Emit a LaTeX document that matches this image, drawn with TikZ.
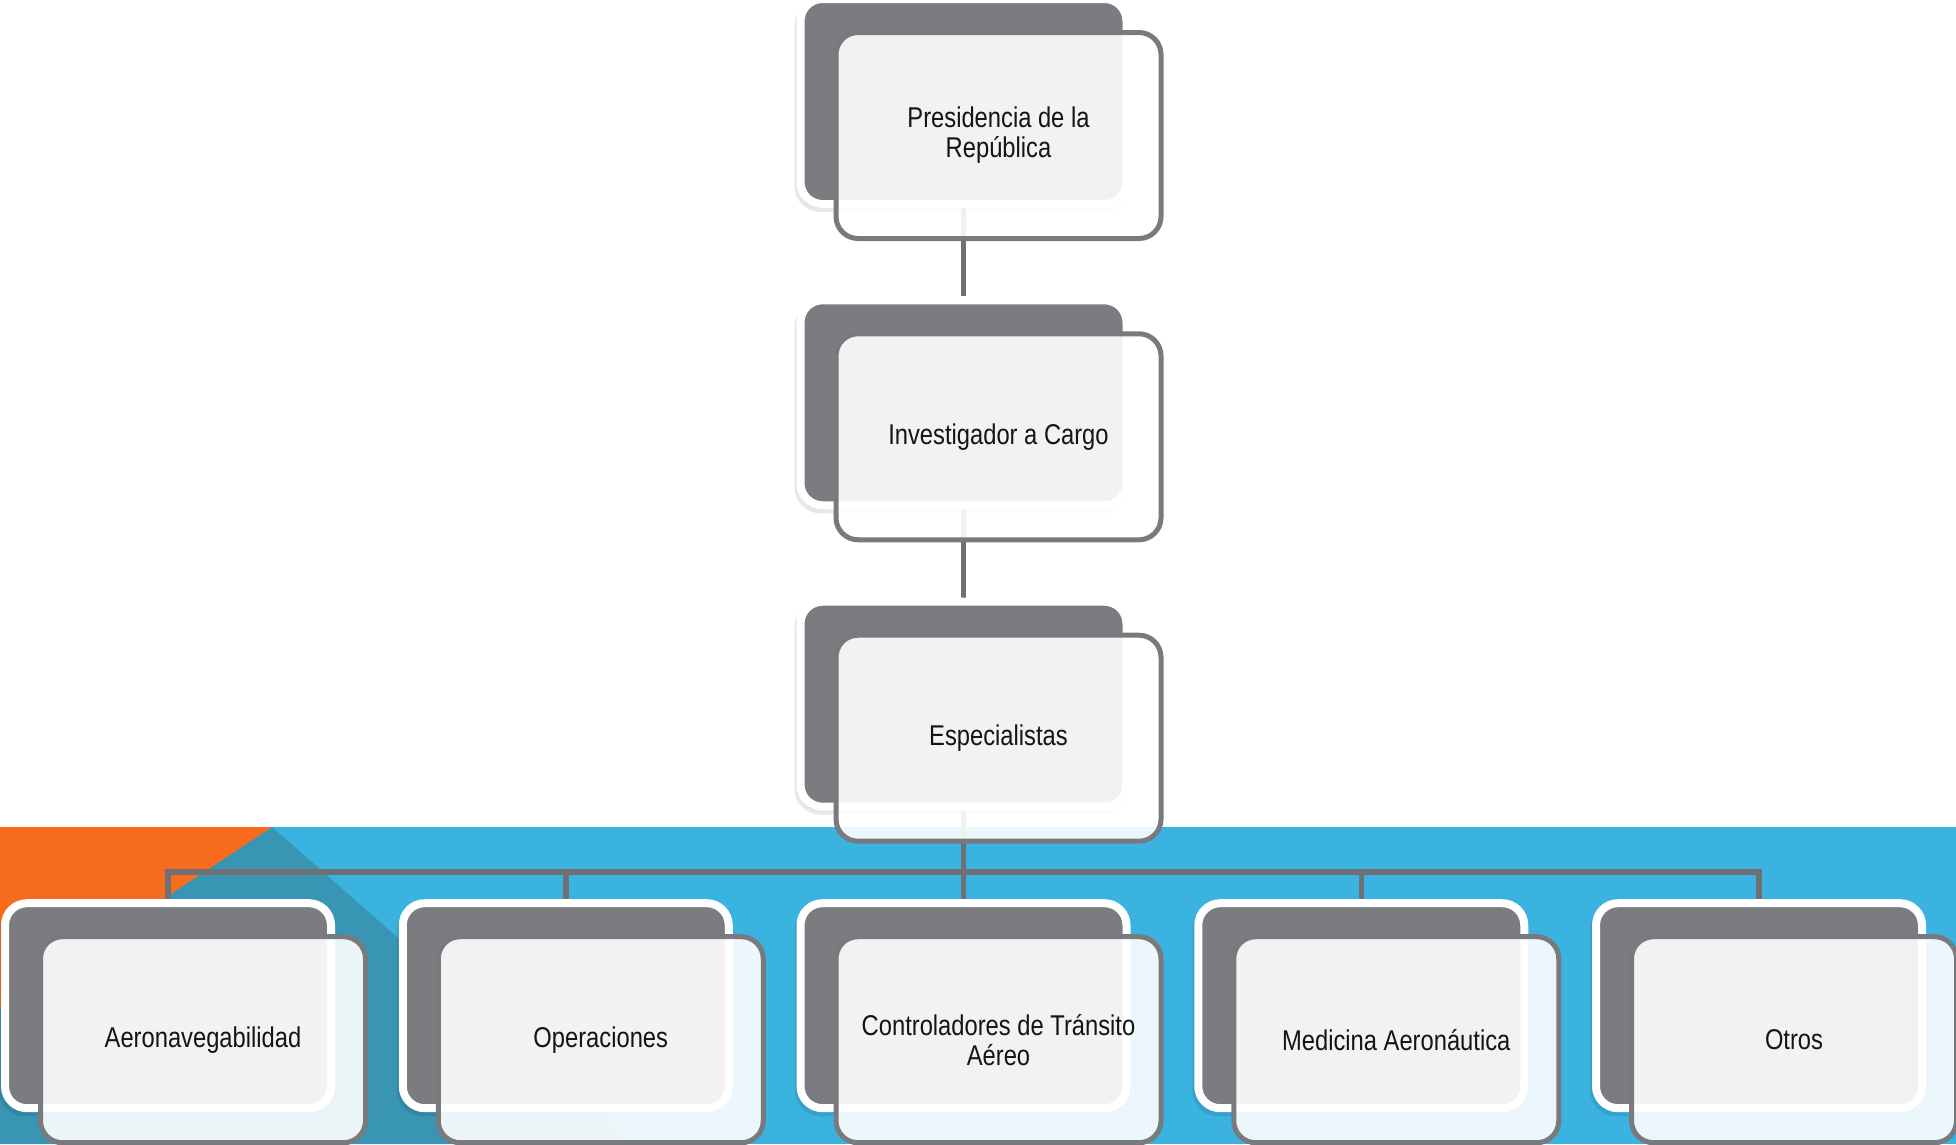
\documentclass[tikz,border=0pt]{standalone}
\usepackage{fontspec}
\setmainfont{Liberation Sans}[FakeStretch=0.83]
\usetikzlibrary{shadows,calc}
\pgfdeclarelayer{bgl}
\pgfdeclarelayer{lnl}
\pgfsetlayers{bgl,lnl,main}
\definecolor{cardgray}{HTML}{7B7C80}
\definecolor{edgegray}{HTML}{797A7E}
\definecolor{linegray}{HTML}{6F7074}
\definecolor{bandblue}{HTML}{3AB3E0}
\definecolor{bandorange}{HTML}{F76B1C}
\definecolor{bandteal}{HTML}{3895B3}
\definecolor{inkc}{HTML}{141414}
\tikzset{
  backcard/.style={rectangle, rounded corners=22pt, minimum width=326pt, minimum height=205pt,
    fill=cardgray, draw=white, line width=8pt, inner sep=0pt,
    general shadow={draw=black, fill=black, opacity=0.09, shadow xshift=-2pt, shadow yshift=-4pt}},
  frontcard/.style={rectangle, rounded corners=22pt, minimum width=325pt, minimum height=206pt,
    fill=white, fill opacity=0.9, text opacity=1, draw=edgegray, draw opacity=1, line width=5pt,
    align=center, text=inkc, font=\fontsize{28.6}{30}\selectfont, inner sep=0pt},
  conn/.style={draw=linegray, line width=5.5pt},
}
\begin{document}
\begin{tikzpicture}[x=1pt,y=-1pt]
\useasboundingbox (0,0) rectangle (1956,1144);
\clip (0,0) rectangle (1956,1144);
\begin{pgfonlayer}{bgl}
  \fill[white] (0,0) rectangle (1956,1144);
  \fill[bandblue] (0,827) rectangle (1956,1144);
  \fill[bandteal] (272,827) -- (632,1144) -- (0,1144) -- (0,1007) -- cycle;
  \fill[bandorange] (0,827) -- (272,827) -- (0,1007) -- cycle;
\end{pgfonlayer}
% top column
\node[backcard] (bp) at (963.5,101.5) {};
\node[frontcard] (fp) at ($(bp)+(35,34)$) {Presidencia de la\\República};
\node[backcard] (bi) at (963.5,402.8) {};
\node[frontcard] (fi) at ($(bi)+(35,34)$) {Investigador a Cargo};
\node[backcard] (be) at (963.5,704.2) {};
\node[frontcard] (fe) at ($(be)+(35,34)$) {Especialistas};
% bottom row
\node[backcard] (b1) at (168,1005.7) {};
\node[frontcard] (f1) at ($(b1)+(35,34)$) {Aeronavegabilidad};
\node[backcard] (b2) at (565.75,1005.7) {};
\node[frontcard] (f2) at ($(b2)+(35,34)$) {Operaciones};
\node[backcard] (b3) at (963.5,1005.7) {};
\node[frontcard] (f3) at ($(b3)+(35,34)$) {Controladores de Tránsito\\Aéreo};
\node[backcard] (b4) at (1361.25,1005.7) {};
\node[frontcard] (f4) at ($(b4)+(35,34)$) {Medicina Aeronáutica};
\node[backcard] (b5) at (1759,1005.7) {};
\node[frontcard] (f5) at ($(b5)+(35,34)$) {Otros};
\coordinate (bar) at (0,872);
\begin{pgfonlayer}{lnl}
  \draw[conn] (bp.south) -- (bi.north);
  \draw[conn] (bi.south) -- (be.north);
  \draw[conn] (be.south) -- (be.south |- bar);
  \draw[conn] (b1.north) -- (b1.north |- bar) -- (b5.north |- bar) -- (b5.north);
  \draw[conn] (b2.north |- bar) -- (b2.north);
  \draw[conn] (b3.north |- bar) -- (b3.north);
  \draw[conn] (b4.north |- bar) -- (b4.north);
\end{pgfonlayer}
\end{tikzpicture}
\end{document}
